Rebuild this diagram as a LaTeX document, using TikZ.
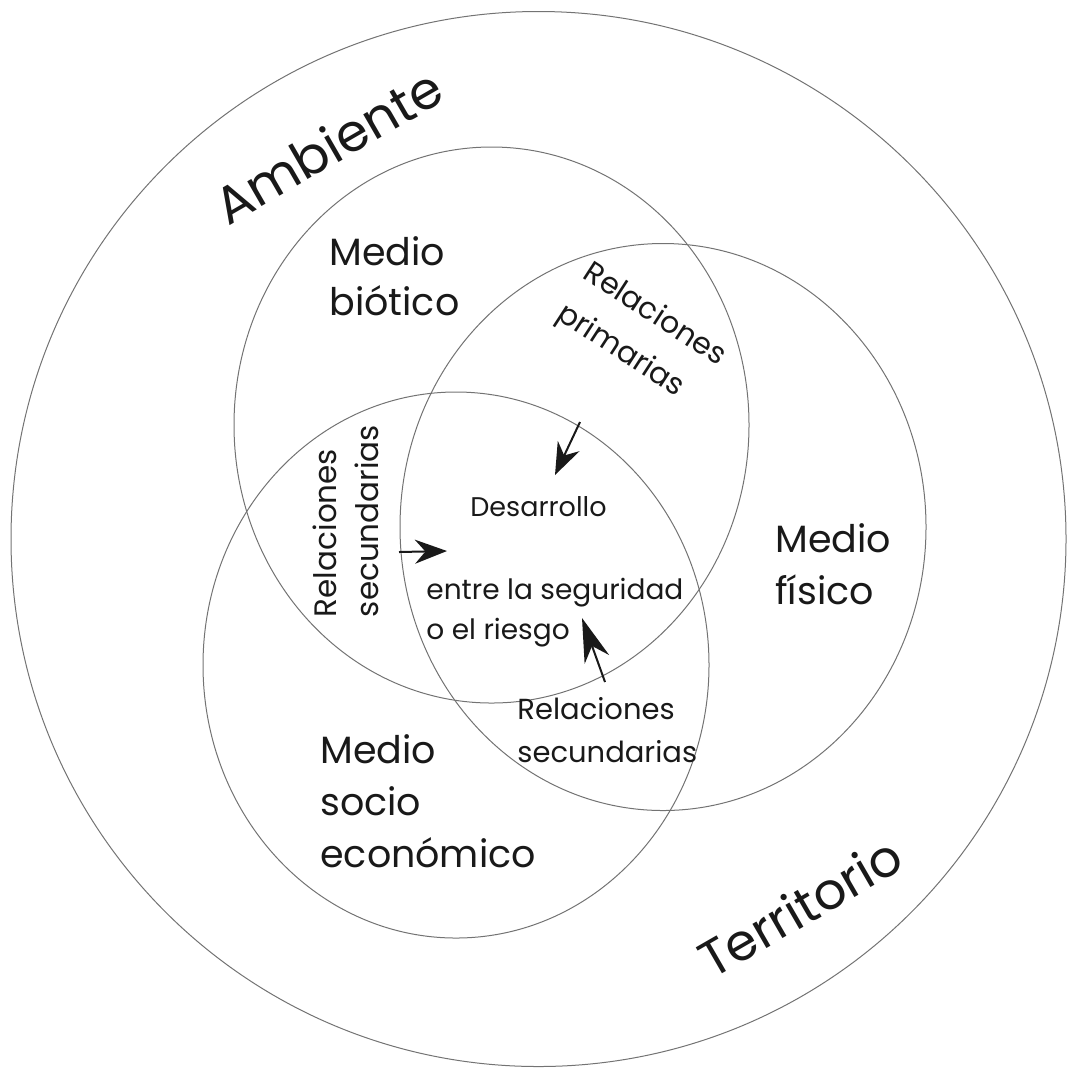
\documentclass[tikz,border=0pt]{standalone}
\usepackage{fontspec}
\setmainfont{Poppins}
\usetikzlibrary{shapes.geometric,arrows.meta}

\tikzset{
  medio/.style={draw=black!55, line width=0.5pt, ellipse, inner sep=0pt},
  rotulo/.style={inner sep=0pt, text=black!90, align=left},
  flecha/.style={line width=1pt, black!90, -{Stealth[length=16pt,width=12pt]}},
}

\begin{document}
\begin{tikzpicture}[x=0.5pt, y=-0.5pt]
  \useasboundingbox (0,0) rectangle (1069,1067);
  % circles
  \node[medio, circle, minimum size=527.5pt] (territorio) at (538.5,539) {};
  \node[medio, minimum width=257.5pt, minimum height=278pt] (biotico) at (491.5,425) {};
  \node[medio, minimum width=263pt, minimum height=283.5pt] (fisico) at (663,527) {};
  \node[medio, minimum width=253pt, minimum height=273pt] (socio) at (456,665) {};

  % big labels
  \node[rotulo, rotate=30, font=\fontsize{26}{32}\selectfont] (ambTxt) at (328,146) {Ambiente};
  \node[rotulo, rotate=30, font=\fontsize{25.5}{32}\selectfont] (terTxt) at (800,907) {Territorio};

  % media
  \node[rotulo, anchor=north west, font=\fontsize{19}{25}\selectfont] (bioTxt) at (329,236) {Medio\\biótico};
  \node[rotulo, anchor=north west, font=\fontsize{19}{26}\selectfont] (fisTxt) at (775,523) {Medio\\físico};
  \node[rotulo, anchor=north west, font=\fontsize{19}{26}\selectfont] (socTxt) at (320,734) {Medio\\socio\\económico};

  % relaciones
  \node[rotulo, rotate=-33, font=\fontsize{15}{24}\selectfont] (priTxt) at (641,336) {Relaciones\\primarias};
  \node[rotulo, rotate=90, font=\fontsize{15.5}{21}\selectfont] (secIzq) at (346,521) {Relaciones\\secundarias};
  \node[rotulo, anchor=north west, font=\fontsize{14.5}{21.5}\selectfont] (secAbj) at (517,697) {Relaciones\\secundarias};

  % centre
  \node[rotulo, anchor=base west, font=\fontsize{13.5}{20}\selectfont] (desTxt) at (470,516) {Desarrollo};
  \node[rotulo, anchor=north west, font=\fontsize{14}{20}\selectfont] (segTxt) at (426,578) {entre la seguridad\\o el riesgo};

  % arrows
  \coordinate (p1) at (580,422);
  \coordinate (p1f) at (555,475);
  \coordinate (p2) at (399,552);
  \coordinate (p2f) at (447,551);
  \coordinate (p3) at (605,682);
  \coordinate (p3f) at (582,618);
  \draw[flecha] (p1) -- (p1f);
  \draw[flecha] (p2) -- (p2f);
  \draw[flecha, -{Stealth[length=22pt,width=13pt]}] (p3) -- (p3f);
\end{tikzpicture}
\end{document}
